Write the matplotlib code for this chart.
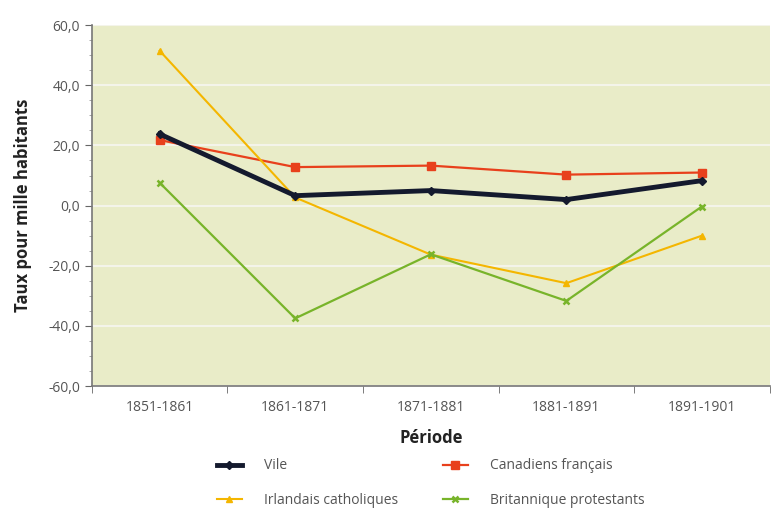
import matplotlib.pyplot as plt
from matplotlib.ticker import FuncFormatter, MultipleLocator

plt.rcParams["font.family"] = ["Open Sans", "DejaVu Sans"]

# Data
periodes = ["1851-1861", "1861-1871", "1871-1881", "1881-1891", "1891-1901"]
ville = [23.8, 3.3, 5.0, 2.0, 8.3]
canadiens = [21.8, 12.8, 13.3, 10.3, 11.0]
irlandais = [51.5, 2.7, -16.3, -25.8, -10.0]
britanniques = [7.6, -37.5, -16.2, -31.7, -0.3]

x = list(range(len(periodes)))

fig = plt.figure(figsize=(7.72, 5.14), dpi=100)
ax = fig.add_axes([0.119, 0.249, 0.878, 0.702])
ax.set_facecolor("#e9ecc8")

ax.plot(x, canadiens, color="#e8401c", lw=1.6, marker="s", ms=6,
        label="Canadiens français", zorder=3)
ax.plot(x, irlandais, color="#f4b600", lw=1.5, marker="^", ms=5,
        label="Irlandais catholiques", zorder=3)
ax.plot(x, britanniques, color="#78b42a", lw=1.6, marker="x", ms=5, mew=1.8,
        label="Britannique protestants", zorder=3)
ax.plot(x, ville, color="#141a2e", lw=3.5, marker="D", ms=4,
        label="Vile", zorder=4)

ax.set_xlim(-0.5, len(periodes) - 0.5)
ax.set_ylim(-60, 60)
ax.yaxis.set_major_locator(MultipleLocator(20))
ax.yaxis.set_minor_locator(MultipleLocator(5))
ax.yaxis.set_major_formatter(FuncFormatter(lambda v, p: f"{v:.1f}".replace(".", ",")))
ax.grid(axis="y", which="major", color="#f4f4ea", lw=1.5)
ax.set_axisbelow(True)

ax.set_xticks(x)
ax.set_xticklabels(periodes)
ax.set_xticks([i + 0.5 for i in range(-1, len(periodes))], minor=True)
ax.tick_params(axis="x", which="major", length=0, pad=10, labelsize=10, labelcolor="#555555")
ax.tick_params(axis="x", which="minor", length=5, color="#666666", direction="out")
ax.tick_params(axis="y", which="major", length=5, color="#666666", labelsize=10, labelcolor="#555555")
ax.tick_params(axis="y", which="minor", length=2, color="#999999")

for side in ["top", "right"]:
    ax.spines[side].set_visible(False)
for side in ["left", "bottom"]:
    ax.spines[side].set_color("#777777")
    ax.spines[side].set_linewidth(1.2)

ax.set_xlabel("Période", fontsize=12, fontweight="bold", color="#222222", labelpad=10)
ax.set_ylabel("Taux pour mille habitants", fontsize=12, fontweight="bold", color="#222222", labelpad=12)

h, l = ax.get_legend_handles_labels()
order = [3, 1, 0, 2]
fig.legend([h[i] for i in order], [l[i] for i in order], ncol=2,
           loc="center", bbox_to_anchor=(0.558, 0.06), frameon=False,
           fontsize=10, labelcolor="#555555", columnspacing=3.2, handlelength=1.8,
           handletextpad=1.6, labelspacing=1.4)

fig.savefig("out.png", dpi=100)
